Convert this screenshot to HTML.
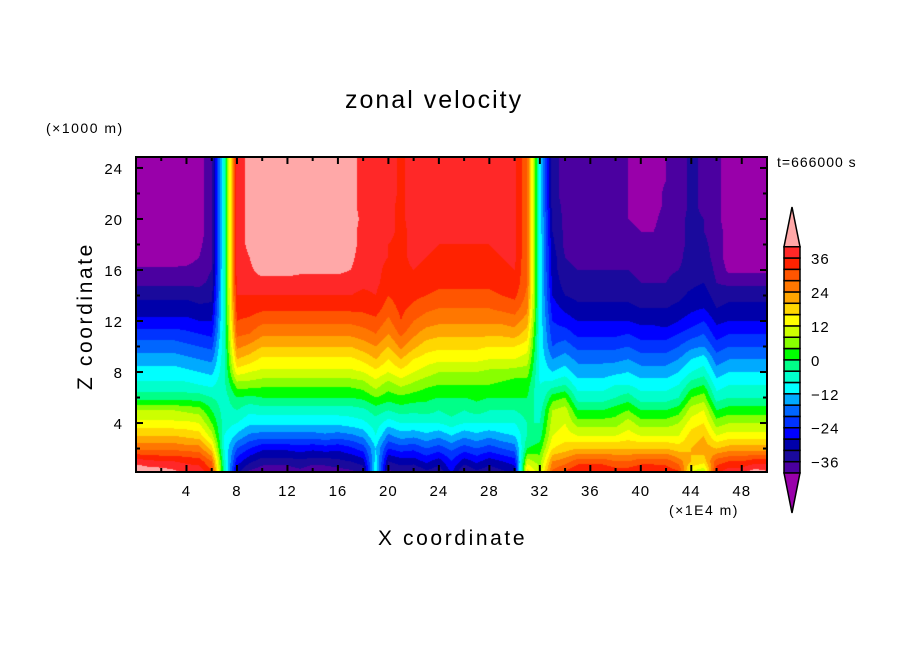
<!DOCTYPE html>
<html><head><meta charset="utf-8"><style>
html,body{margin:0;padding:0;background:#fff;width:904px;height:654px;overflow:hidden}
#wrap{position:relative;width:904px;height:654px;font-family:"Liberation Sans",sans-serif;color:#000}
.t{position:absolute;white-space:nowrap}
canvas{position:absolute}
</style></head><body>
<div id="wrap">
<div class="t" style="left:345px;top:86px;font-size:25px;letter-spacing:2px">zonal velocity</div>
<div class="t" style="left:46px;top:120px;font-size:14px;letter-spacing:1.5px">(×1000 m)</div>
<div class="t" style="left:777px;top:154px;font-size:14px;letter-spacing:1px">t=666000 s</div>
<div class="t" style="left:669px;top:502px;font-size:14px;letter-spacing:1.5px">(×1E4 m)</div>
<div class="t" style="left:378px;top:527px;font-size:21px;letter-spacing:2.6px">X coordinate</div>
<div class="t" style="left:86px;top:316px;font-size:21px;letter-spacing:2.6px;transform:translate(-50%,-50%) rotate(-90deg)">Z coordinate</div>
<canvas id="plot" width="631" height="315" style="left:136px;top:157px"></canvas>
<svg id="ov" width="904" height="654" style="position:absolute;left:0;top:0"></svg>
</div>
<script>
const xNodes = [0,1,2,3,4,5,6,7,8,9,10,11,12,13,14,15,16,17,18,19,20,21,22,23,24,25,26,27,28,29,30,31,32,33,34,35,36,37,38,39,40,41,42,43,44,45,46,47,48,49,50];
const zNodes = [0,1,2,3,4,5,6,7,8,9,10,11,12,13,14,15,16,17,18,19,20,21,22,23,24,25];
// velocity columns: one per x node, bottom (z=0) to top (z=25)
const velocity = [
[46,38,27,20,13,8,-2,-7,-10,-14,-18,-22,-27,-30,-33,-37,-39,-44,-44,-44,-44,-44,-44,-44,-44,-44],
[44,37,27,20,13,8,-2,-7,-10,-14,-18,-22,-27,-30,-33,-37,-39,-44,-44,-44,-44,-44,-44,-44,-44,-44],
[44,36,27,20,13,8,-2,-7,-10,-14,-18,-22,-27,-30,-33,-37,-39,-44,-44,-44,-44,-44,-44,-44,-44,-44],
[42,36,27,20,13,8,-2,-7,-10,-14,-18,-22,-27,-30,-33,-37,-39,-43,-44,-44,-44,-44,-44,-44,-44,-44],
[40,35,26,19,13,7,-2,-7,-11,-15,-19,-23,-27,-30,-33,-37,-39,-42,-43,-43,-43,-43,-43,-43,-43,-43],
[40,34,26,18,12,6,-2,-8,-12,-16,-20,-24,-28,-31,-34,-37,-38,-40,-41,-42,-42,-42,-42,-42,-42,-42],
[34,28,18,10,4,0,-4,-9,-13,-17,-21,-25,-28,-31,-33,-35,-36,-37,-37,-37,-37,-37,-37,-37,-37,-37],
[-4,-6,-8,-8,-6,-6,-6,-5,-5,-5,-5,-5,-5,-5,-5,-5,-5,-5,-5,-5,-5,-5,-5,-5,-5,-5],
[-32,-26,-20,-13,-8,-4,0,6,14,20,25,29,32,34,36,37,38,38,38,38,38,38,38,38,38,38],
[-38,-31,-24,-17,-11,-7,-1,6,12,18,23,28,31,34,36,38,39,40,41,41,41,41,41,41,41,41],
[-40,-34,-27,-18,-11,-6,0,5,11,15,20,25,29,33,36,38,42,44,44,44,44,44,44,44,44,44],
[-41,-34,-27,-18,-11,-6,0,5,11,15,20,25,29,33,36,38,42,44,44,44,44,44,44,44,44,44],
[-40,-34,-27,-18,-11,-6,0,5,11,15,20,25,29,33,36,38,42,44,44,44,44,44,44,44,44,44],
[-38,-33,-26,-18,-11,-6,0,5,11,15,20,25,29,33,36,38,41,44,44,44,44,44,44,44,44,44],
[-41,-34,-27,-18,-11,-6,0,5,11,15,20,25,29,33,36,38,41,44,44,44,44,44,44,44,44,44],
[-40,-34,-26,-17,-11,-6,0,5,11,15,20,25,29,33,36,38,41,44,44,44,44,44,44,44,44,44],
[-39,-33,-27,-18,-11,-6,0,5,11,15,20,25,29,33,36,38,41,44,44,44,44,44,44,44,44,44],
[-38,-32,-25,-17,-10,-6,0,5,11,15,20,25,29,33,36,38,40,41,42,42,42,42,42,42,42,42],
[-36,-30,-22,-15,-9,-5,1,6,12,17,22,26,30,33,35,37,38,38,38,38,39,38,38,38,38,38],
[-8,-10,-12,-8,-6,-2,4,10,15,20,24,28,31,34,36,37,37,37,37,37,37,37,37,37,37,37],
[-38,-32,-24,-17,-10,-4,2,6,12,16,20,24,27,30,32,34,35,36,36,37,37,37,38,38,38,38],
[-36,-30,-22,-14,-8,-2,3,9,15,20,25,29,32,33,34,35,35,35,35,35,35,35,35,35,35,35],
[-38,-30,-23,-15,-8,-3,2,7,12,16,21,25,28,31,33,35,36,37,37,37,38,38,38,38,38,38],
[-34,-27,-20,-13,-8,-2,1,5,10,14,18,22,26,29,32,34,35,36,37,37,37,37,38,38,38,38],
[-36,-30,-22,-15,-8,-4,0,4,8,13,17,21,25,28,31,33,34,35,36,37,37,37,37,38,38,38],
[-28,-24,-19,-12,-6,-2,0,4,8,13,17,21,25,28,31,33,34,35,36,36,36,36,36,36,36,36],
[-38,-30,-22,-15,-8,-4,0,4,8,13,17,21,25,28,31,33,34,35,36,37,37,37,37,38,38,38],
[-34,-27,-20,-13,-8,-2,1,4,8,13,17,21,25,28,31,33,34,35,36,37,37,37,37,38,38,38],
[-36,-30,-22,-15,-8,-4,0,4,7,12,16,21,25,28,31,33,34,35,36,37,37,37,37,38,38,38],
[-34,-28,-20,-13,-8,-4,0,3,7,12,16,21,25,29,32,34,35,36,37,37,37,37,37,37,37,37],
[-32,-26,-18,-12,-8,-4,0,2,6,12,16,22,26,30,33,35,36,37,37,37,37,37,37,37,37,37],
[20,10,0,-4,-4,-2,0,2,6,10,14,18,22,25,27,28,28,28,28,28,28,28,28,28,28,28],
[10,6,2,-2,-4,-6,-8,-8,-9,-9,-9,-9,-9,-9,-9,-9,-9,-9,-9,-9,-9,-9,-9,-9,-9,-9],
[30,24,16,12,10,8,2,-6,-12,-16,-20,-22,-24,-26,-28,-29,-30,-30,-31,-32,-33,-34,-34,-34,-34,-34],
[34,26,18,14,12,10,4,-4,-10,-14,-18,-22,-26,-29,-32,-34,-35,-36,-37,-37,-37,-37,-38,-38,-38,-38],
[38,30,20,12,6,0,-6,-10,-14,-17,-21,-25,-28,-31,-33,-35,-36,-37,-37,-37,-38,-38,-38,-38,-38,-38],
[38,30,20,12,6,0,-6,-10,-14,-17,-21,-25,-28,-31,-33,-35,-36,-37,-37,-38,-38,-38,-38,-38,-38,-38],
[38,30,20,12,6,0,-6,-10,-14,-17,-21,-25,-28,-31,-33,-35,-36,-37,-37,-37,-38,-38,-38,-38,-38,-38],
[36,28,20,12,6,2,-4,-8,-13,-17,-21,-25,-28,-31,-33,-35,-36,-37,-38,-38,-38,-38,-38,-38,-38,-38],
[36,28,20,14,10,4,-2,-8,-12,-16,-20,-24,-28,-31,-33,-35,-36,-37,-38,-39,-40,-40,-40,-40,-40,-40],
[38,30,20,12,6,0,-6,-10,-14,-18,-22,-26,-29,-32,-34,-36,-37,-38,-39,-40,-41,-42,-42,-42,-42,-42],
[38,30,20,12,6,0,-6,-10,-14,-18,-22,-26,-29,-32,-34,-36,-37,-38,-39,-40,-41,-42,-42,-42,-42,-42],
[36,30,20,12,6,0,-6,-10,-14,-18,-22,-26,-30,-32,-34,-36,-37,-38,-38,-38,-38,-39,-39,-40,-40,-40],
[34,26,18,12,8,2,-4,-8,-12,-16,-20,-24,-28,-31,-33,-34,-36,-37,-37,-37,-37,-38,-38,-38,-38,-38],
[10,20,20,18,14,10,4,-2,-8,-12,-17,-22,-26,-29,-31,-33,-34,-34,-35,-35,-35,-35,-35,-35,-35,-35],
[6,18,22,20,16,12,6,0,-6,-10,-16,-20,-24,-28,-30,-32,-33,-34,-35,-36,-36,-37,-37,-37,-37,-37],
[36,30,20,12,6,0,-6,-10,-14,-18,-22,-26,-29,-32,-34,-36,-37,-38,-38,-38,-39,-39,-39,-39,-39,-39],
[40,32,22,14,8,2,-4,-8,-12,-16,-20,-24,-28,-31,-33,-37,-41,-42,-42,-42,-42,-42,-42,-42,-42,-42],
[40,32,22,14,8,2,-4,-8,-12,-16,-20,-24,-28,-31,-33,-37,-41,-42,-42,-42,-42,-42,-42,-42,-42,-42],
[44,34,22,14,8,2,-4,-8,-12,-16,-20,-24,-28,-31,-33,-37,-41,-42,-42,-42,-42,-42,-42,-42,-42,-42],
[42,34,22,14,8,2,-4,-8,-12,-16,-20,-24,-28,-31,-33,-37,-41,-42,-42,-42,-42,-42,-42,-42,-42,-42]
];
const levels = [-40,-36,-32,-28,-24,-20,-16,-12,-8,-4,0,4,8,12,16,20,24,28,32,36,40];
const levelColors = ["#9900aa","#4b00a0","#1a0a9c","#0000aa","#0000ff","#0033ff","#0066ff","#00aaff","#00ffff","#00ffcc","#00ff88","#00ff00","#88ff00","#ccff00","#ffff00","#ffd700","#ffa500","#ff7700","#ff5500","#ff2200","#ff2828","#ffa8a8"];
const xTicks = [4,8,12,16,20,24,28,32,36,40,44,48];
const zTicks = [4,8,12,16,20,24];
const cbLabels = [36,24,12,0,-12,-24,-36];

const PX0=136, PX1=767, PY0=157, PY1=472;
const xMin=0, xMax=50, zMin=0.16, zMax=24.86;
function sx(x){return PX0+(x-xMin)/(xMax-xMin)*(PX1-PX0);}
function sz(z){return PY1-(z-zMin)/(zMax-zMin)*(PY1-PY0);}
function levelIndex(v){let i=0;while(i<levels.length&&v>=levels[i])i++;return i;}
function hex(c){return [parseInt(c.substr(1,2),16),parseInt(c.substr(3,2),16),parseInt(c.substr(5,2),16)];}
function interp(x,z){
  let i=0;while(i<xNodes.length-2&&x>xNodes[i+1])i++;
  let j=0;while(j<zNodes.length-2&&z>zNodes[j+1])j++;
  const tx=Math.min(1,Math.max(0,(x-xNodes[i])/(xNodes[i+1]-xNodes[i])));
  const tz=Math.min(1,Math.max(0,(z-zNodes[j])/(zNodes[j+1]-zNodes[j])));
  const a=velocity[i][j],b=velocity[i+1][j],c=velocity[i][j+1],d=velocity[i+1][j+1];
  return (a*(1-tx)+b*tx)*(1-tz)+(c*(1-tx)+d*tx)*tz;
}
const cv=document.getElementById('plot');const ctx=cv.getContext('2d');
const W=cv.width,H=cv.height;const img=ctx.createImageData(W,H);
const rgb=levelColors.map(hex);
for(let py=0;py<H;py++){
  const z=zMin+(PY1-(PY0+py+0.5))/(PY1-PY0)*(zMax-zMin);
  for(let px=0;px<W;px++){
    const x=xMin+(px+0.5)/(PX1-PX0)*(xMax-xMin);
    const c=rgb[levelIndex(interp(x,z))];const k=(py*W+px)*4;
    img.data[k]=c[0];img.data[k+1]=c[1];img.data[k+2]=c[2];img.data[k+3]=255;
  }
}
ctx.putImageData(img,0,0);

const NS='http://www.w3.org/2000/svg';const ov=document.getElementById('ov');
function el(tag,attrs,parent){const e=document.createElementNS(NS,tag);for(const k in attrs)e.setAttribute(k,attrs[k]);(parent||ov).appendChild(e);return e;}
const frame=el('rect',{x:PX0,y:PY0,width:PX1-PX0,height:PY1-PY0,fill:'none',stroke:'#000','stroke-width':2});


for(let x=2;x<50;x+=2){
  const major=xTicks.indexOf(x)>=0;const L=major?7:4;
  const t1=el('line',{x1:sx(x),x2:sx(x),y1:PY1,y2:PY1-L,stroke:'#000','stroke-width':2});
  
  
  const t2=el('line',{x1:sx(x),x2:sx(x),y1:PY0,y2:PY0+L,stroke:'#000','stroke-width':2});
  
  
}
xTicks.forEach(v=>{
  const t=el('text',{x:sx(v),y:496,'text-anchor':'middle','font-size':15,'letter-spacing':1,'font-family':'Liberation Sans, sans-serif'});
  t.textContent=v;
  
  
});
for(let z=2;z<=24;z+=2){
  const major=zTicks.indexOf(z)>=0;const L=major?7:4;
  const t1=el('line',{x1:PX0,x2:PX0+L,y1:sz(z),y2:sz(z),stroke:'#000','stroke-width':2});
  
  
  const t2=el('line',{x1:PX1,x2:PX1-L,y1:sz(z),y2:sz(z),stroke:'#000','stroke-width':2});
  
  
}
zTicks.forEach(v=>{
  const t=el('text',{x:123,y:sz(v)+6,'text-anchor':'end','font-size':15,'letter-spacing':1,'font-family':'Liberation Sans, sans-serif'});
  t.textContent=v;
  
  
});
const CB0=246.7,CB1=473,CBX=784,CBW=16;
function cy(v){return CB1-(v-levels[0])/(levels[levels.length-1]-levels[0])*(CB1-CB0);}
for(let i=0;i<levels.length-1;i++){
  const r=el('rect',{x:CBX,y:cy(levels[i+1]),width:CBW,height:cy(levels[i])-cy(levels[i+1]),fill:levelColors[i+1],stroke:'#000','stroke-width':1.5});
  
  
}
const tu=el('polygon',{points:`${CBX},${CB0} ${CBX+CBW},${CB0} ${CBX+CBW/2},207`,fill:levelColors[levelColors.length-1],stroke:'#000','stroke-width':1.5});


const td=el('polygon',{points:`${CBX},${CB1} ${CBX+CBW},${CB1} ${CBX+CBW/2},513`,fill:levelColors[0],stroke:'#000','stroke-width':1.5});


cbLabels.forEach(v=>{
  const t=el('text',{x:811,y:cy(v)+6,'font-size':15,'letter-spacing':1,'font-family':'Liberation Sans, sans-serif'});
  t.textContent=v<0?'−'+Math.abs(v):String(v);
  
  
});
</script>
</body></html>
